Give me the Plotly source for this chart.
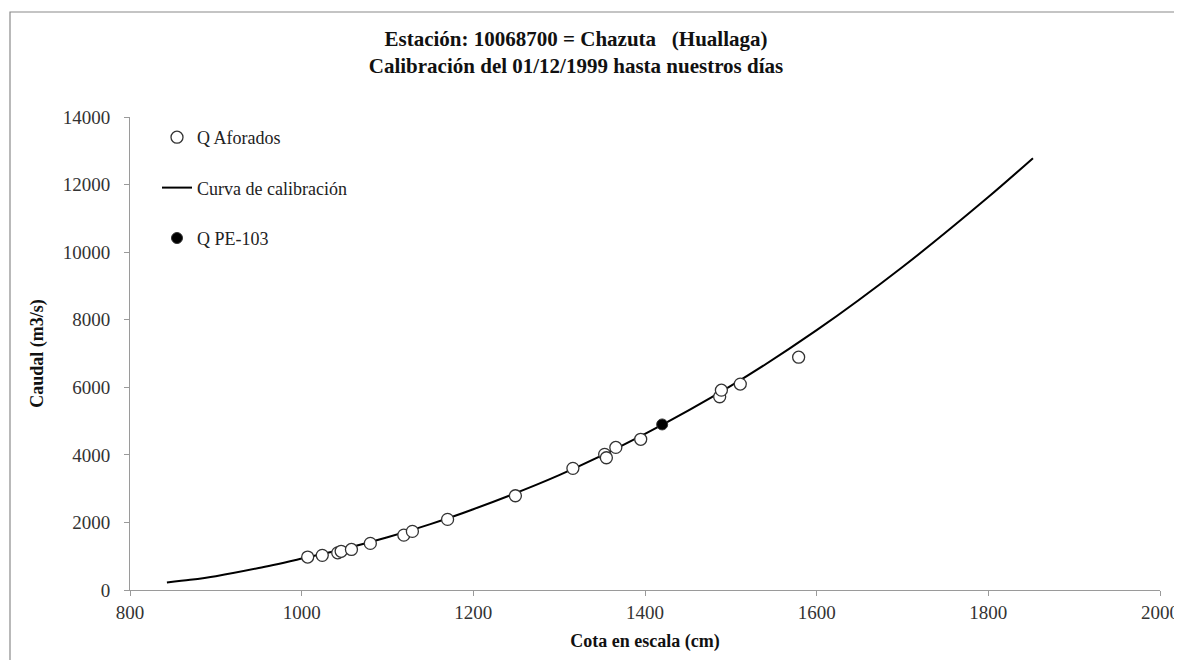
import plotly.graph_objects as go

# Rating curve
curve_h = [843, 870, 900, 950, 1000, 1050, 1100, 1150, 1200, 1300, 1400, 1500, 1600, 1700, 1800, 1852]
curve_q = [220, 300, 410, 650, 930, 1220, 1560, 1950, 2390, 3400, 4620, 6040, 7690, 9560, 11630, 12780]

# Gauged discharges (Q Aforados)
afor_h = [1007, 1024, 1042, 1046, 1058, 1080, 1119, 1129, 1170, 1249, 1316, 1353, 1355, 1366, 1395, 1487, 1489, 1511, 1579]
afor_q = [975, 1025, 1100, 1145, 1200, 1380, 1625, 1735, 2090, 2790, 3600, 4015, 3915, 4220, 4460, 5720, 5915, 6095, 6890]

# Q PE-103
pe_h = [1420]
pe_q = [4900]

x_ticks = [800, 1000, 1200, 1400, 1600, 1800, 2000]
y_ticks = [0, 2000, 4000, 6000, 8000, 10000, 12000, 14000]

font_family = "Liberation Serif, Times New Roman, serif"

fig = go.Figure()
fig.add_trace(go.Scatter(
    x=curve_h, y=curve_q, mode="lines", name="Curva de calibración",
    line=dict(color="black", width=2, shape="spline", smoothing=0.8),
    legendrank=2, legendgroup="c"))
fig.add_trace(go.Scatter(
    x=afor_h, y=afor_q, mode="markers", name="Q Aforados",
    marker=dict(symbol="circle", size=12, color="white", line=dict(color="#333333", width=1.3)),
    legendrank=1, legendgroup="a"))
fig.add_trace(go.Scatter(
    x=pe_h, y=pe_q, mode="markers", name="Q PE-103",
    marker=dict(symbol="circle", size=11, color="black", line=dict(color="#333333", width=1)),
    legendrank=3, legendgroup="p"))

# page has an 8px body offset; figure coordinates below already account for it
OFF = 8
L, R, T, B = 130 - OFF, 30, 117 - OFF, 78
W, H = 1182, 660
pw, ph = W - L - R, H - T - B

def px_x(p):  # page pixel -> paper x
    return (p - OFF - L) / pw

def px_y(p):  # page pixel -> paper y
    return (H - B - (p - OFF)) / ph

fig.update_layout(
    width=W, height=H,
    margin=dict(l=L, r=R, t=T, b=B, autoexpand=False),
    paper_bgcolor="white", plot_bgcolor="white",
    font=dict(family=font_family, size=17, color="#222222"),
    title=dict(
        text="<b>Estación: 10068700 = Chazuta   (Huallaga)<br>Calibración del 01/12/1999 hasta nuestros días</b>",
        x=568 / W, xanchor="center", xref="container",
        y=1 - 38 / H, yanchor="middle", yref="container",
        font=dict(family=font_family, size=21, color="#111111")),
    legend=dict(
        x=px_x(157), y=px_y(119), xanchor="left", yanchor="top",
        bgcolor="rgba(0,0,0,0)", font=dict(family=font_family, size=18, color="#222222"),
        tracegroupgap=24, itemwidth=30, traceorder="grouped"),
    xaxis=dict(
        range=[800, 2000], tickvals=x_ticks, ticktext=[str(v) for v in x_ticks],
        showgrid=False, zeroline=False, showline=True, linecolor="#9a9a9a", linewidth=1,
        ticks="outside", ticklen=5, tickcolor="#9a9a9a", automargin=False,
        tickfont=dict(family=font_family, size=19, color="#333333"),
        title=dict(text="<b>Cota en escala (cm)</b>", standoff=12,
                   font=dict(family=font_family, size=18, color="#111111"))),
    yaxis=dict(
        range=[0, 14000], tickvals=y_ticks, ticktext=[str(v) for v in y_ticks],
        showgrid=False, zeroline=False, showline=True, linecolor="#9a9a9a", linewidth=1,
        ticks="outside", ticklen=5, tickcolor="#9a9a9a", automargin=False,
        ticklabelstandoff=10,
        tickfont=dict(family=font_family, size=19, color="#333333"),
        title=dict(text="<b>Caudal (m3/s)</b>", standoff=14,
                   font=dict(family=font_family, size=18, color="#111111"))),
    shapes=[dict(type="rect", xref="paper", yref="paper",
                 x0=px_x(10), x1=px_x(1180), y0=px_y(675), y1=px_y(12),
                 line=dict(color="#8a8a8a", width=1.2), fillcolor="rgba(0,0,0,0)", layer="below")],
)

fig.write_html("out.html")
